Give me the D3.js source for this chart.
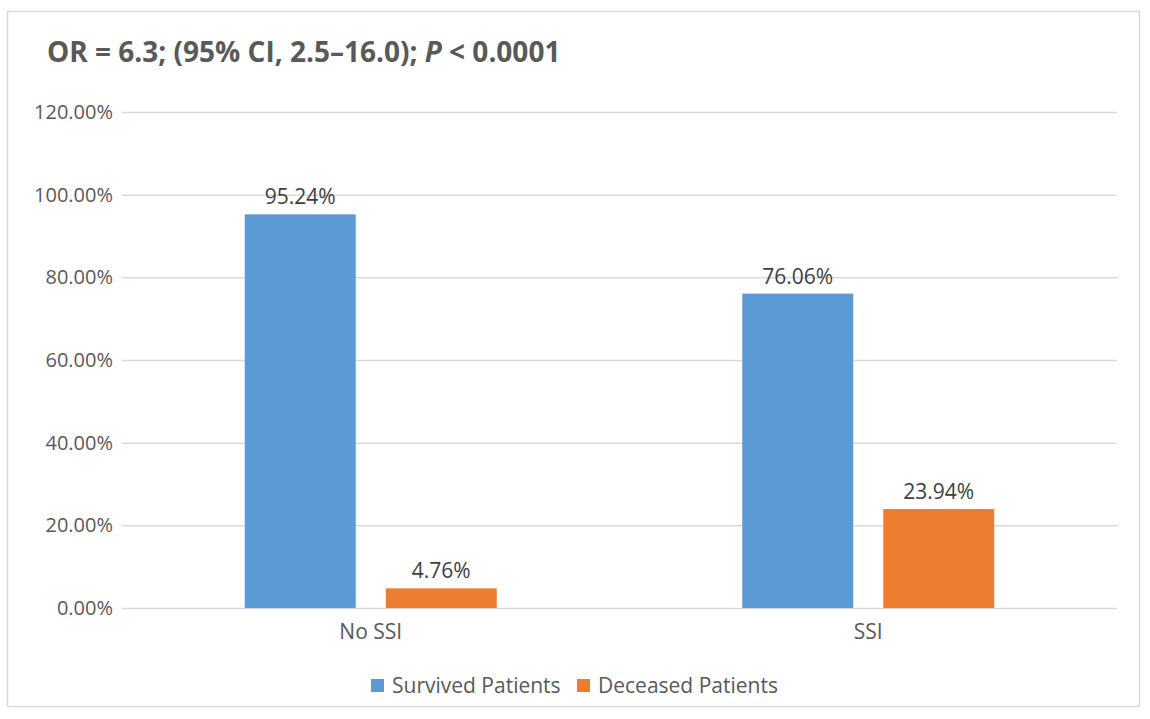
<!DOCTYPE html>
<html>
<head>
<meta charset="utf-8">
<script src="https://cdn.jsdelivr.net/npm/d3@7"></script>
<style>
  html, body { margin: 0; padding: 0; background: #fff; }
  svg { display: block; font-family: "Open Sans", "Noto Sans", sans-serif; }
</style>
</head>
<body>
<svg width="1150" height="719"></svg>
<script>
const categories = ['No SSI', 'SSI'];
const seriesNames = ['Survived Patients', 'Deceased Patients'];
const survived = [95.24, 76.06];
const deceased = [4.76, 23.94];
const yTicks = [0, 20, 40, 60, 80, 100, 120];
const colors = ['#5b9bd5', '#ed7d31'];

const rows = categories.map((c, i) => ({ cat: c, values: [survived[i], deceased[i]] }));

const svg = d3.select('svg');

// chart frame
svg.append('rect')
  .attr('x', 7.5).attr('y', 11.5)
  .attr('width', 1132).attr('height', 695)
  .attr('fill', '#fff')
  .attr('stroke', '#d9d9d9')
  .attr('stroke-width', 1.5);

// title
const title = svg.append('text')
  .attr('x', 47).attr('y', 62)
  .style('font-size', '28px')
  .style('font-weight', 'bold')
  .style('fill', '#595959');
title.append('tspan').text('OR = 6.3; (95% CI, 2.5–16.0); ');
title.append('tspan').style('font-style', 'italic').text('P');
title.append('tspan').text(' < 0.0001');

const plotLeft = 122, plotRight = 1117, plotTop = 112, plotBottom = 608;

const x0 = d3.scaleBand().domain(categories).range([plotLeft, plotRight]);
const x1 = d3.scaleBand().domain([0, 1]).range([0, 252]).paddingInner(0.213);
const y = d3.scaleLinear().domain([0, 120]).range([plotBottom, plotTop]);

// gridlines + y labels
const yAxis = d3.axisLeft(y)
  .tickValues(yTicks)
  .tickSize(-(plotRight - plotLeft))
  .tickPadding(9)
  .tickFormat(d => d.toFixed(2) + '%');

svg.append('g')
  .attr('transform', `translate(${plotLeft},0)`)
  .call(yAxis)
  .call(g => g.select('.domain').remove())
  .call(g => g.selectAll('line').attr('stroke', '#d9d9d9').attr('stroke-width', 1.5))
  .call(g => g.selectAll('text').style('font-size', '20px').style('fill', '#595959'))
  .attr('font-family', null);

// x labels
svg.append('g')
  .selectAll('text')
  .data(categories)
  .enter()
  .append('text')
    .attr('x', d => x0(d) + x0.bandwidth() / 2)
    .attr('y', plotBottom + 31)
    .attr('text-anchor', 'middle')
    .style('font-size', '21px')
    .style('fill', '#595959')
    .text(d => d);

// bars
const groups = svg.append('g')
  .selectAll('g')
  .data(rows)
  .enter()
  .append('g')
    .attr('transform', d => `translate(${x0(d.cat) + (x0.bandwidth() - 252) / 2},0)`);

groups.selectAll('rect')
  .data(d => d.values)
  .enter()
  .append('rect')
    .attr('x', (d, i) => x1(i))
    .attr('width', x1.bandwidth())
    .attr('y', d => y(d))
    .attr('height', d => y(0) - y(d))
    .attr('fill', (d, i) => colors[i]);

groups.selectAll('text')
  .data(d => d.values)
  .enter()
  .append('text')
    .attr('x', (d, i) => x1(i) + x1.bandwidth() / 2)
    .attr('y', d => y(d) - 10)
    .attr('text-anchor', 'middle')
    .style('font-size', '21px')
    .style('fill', '#404040')
    .text(d => d.toFixed(2) + '%');

// legend
const legendX = [371, 577];
const legend = svg.append('g')
  .selectAll('g')
  .data(seriesNames)
  .enter()
  .append('g')
    .attr('transform', (d, i) => `translate(${legendX[i]},679)`);

legend.append('rect')
  .attr('width', 13).attr('height', 13)
  .attr('fill', (d, i) => colors[i]);

legend.append('text')
  .attr('x', 21).attr('y', 14)
  .style('font-size', '21px')
  .style('fill', '#595959')
  .text(d => d);
</script>
</body>
</html>
